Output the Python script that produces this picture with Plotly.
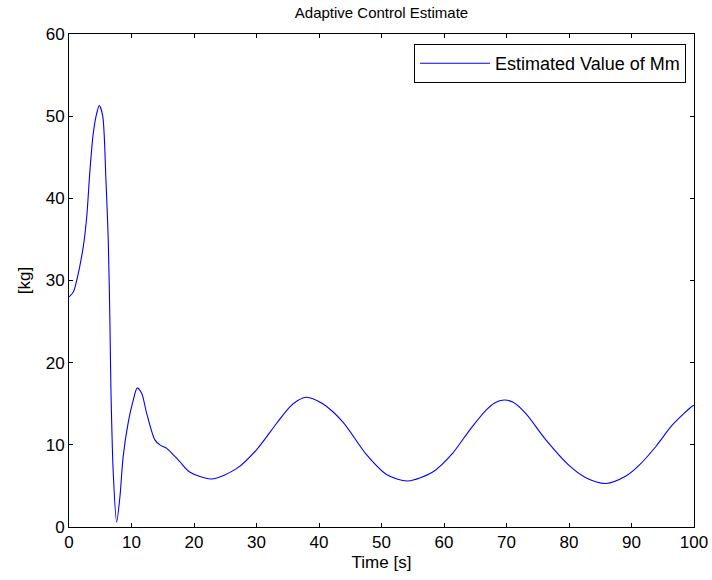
import plotly.graph_objects as go

time_s = [0.0, 0.69, 1.23, 2.28, 2.83, 3.35, 3.88, 4.42, 4.84, 5.38, 5.91, 6.28, 6.55, 6.71,
          7.08, 7.62, 8.15, 8.67, 9.47, 10.27, 10.91, 11.61, 12.41, 13.74, 14.54, 15.6, 16.66,
          17.73, 19.3, 22.8, 26.8, 30.0, 33.2, 35.3, 36.6, 38.0, 40.6, 43.8, 47.6, 50.8, 54.2, 58.2,
          61.4, 64.1, 66.7, 68.1, 69.6, 71.0, 73.1, 76.3, 80.0, 82.7, 85.9, 89.1, 91.2, 93.9, 96.5,
          99.7, 100.0]
mm_est = [28.0, 28.6, 30.0, 34.1, 37.7, 43.4, 47.9, 50.3, 51.3, 50.1, 42.2, 34.9, 24.8, 16.7,
          6.6, 0.6, 3.7, 8.6, 12.7, 15.4, 16.9, 16.3, 13.9, 10.6, 10.0, 9.6, 8.8,
          7.96, 6.7, 5.85, 7.1, 9.4, 12.6, 14.6, 15.4, 15.8, 15.0, 12.8, 8.8, 6.4, 5.6, 6.7,
          9.0, 11.8, 14.2, 15.1, 15.45, 15.2, 13.8, 10.6, 7.5, 6.0, 5.3, 6.2, 7.5, 9.8, 12.4,
          14.7, 14.8]

x_ticks = list(range(0, 101, 10))
y_ticks = list(range(0, 61, 10))

font_family = "Liberation Sans, Arial, sans-serif"

fig = go.Figure()
fig.add_trace(go.Scatter(
    x=time_s, y=mm_est, mode="lines", name="Estimated Value of Mm",
    line=dict(color="rgb(0,0,255)", width=1.1, shape="spline", smoothing=0.8),
))

axis_common = dict(
    showline=True, linecolor="black", linewidth=1, mirror="allticks",
    ticks="inside", ticklen=4, tickcolor="black", tickwidth=1,
    showgrid=False, zeroline=False, automargin=False,
    tickfont=dict(size=17, color="black", family=font_family),
)

fig.update_layout(
    width=712, height=580,
    margin=dict(l=69, r=18, t=34, b=53, autoexpand=False),
    paper_bgcolor="white", plot_bgcolor="white",
    font=dict(family=font_family, color="black"),
    title=dict(text="Adaptive Control Estimate", x=0.5, xref="paper", xanchor="center",
               y=1 - 13 / 580, yanchor="middle", yref="container",
               font=dict(size=15, color="black", family=font_family)),
    xaxis=dict(range=[0, 100], tickvals=x_ticks,
               title=dict(text="Time [s]", font=dict(size=17), standoff=4), **axis_common),
    yaxis=dict(range=[0, 60], tickvals=y_ticks,
               title=dict(text="[kg]", font=dict(size=17), standoff=10), **axis_common),
    showlegend=True,
    legend=dict(x=(686 - 69) / 625, y=(527 - 44) / 493, xanchor="right", yanchor="top",
                bordercolor="black", borderwidth=1, bgcolor="white",
                font=dict(size=18, color="black", family=font_family),
                itemwidth=70, tracegroupgap=0),
)

fig.write_html("out.html")
